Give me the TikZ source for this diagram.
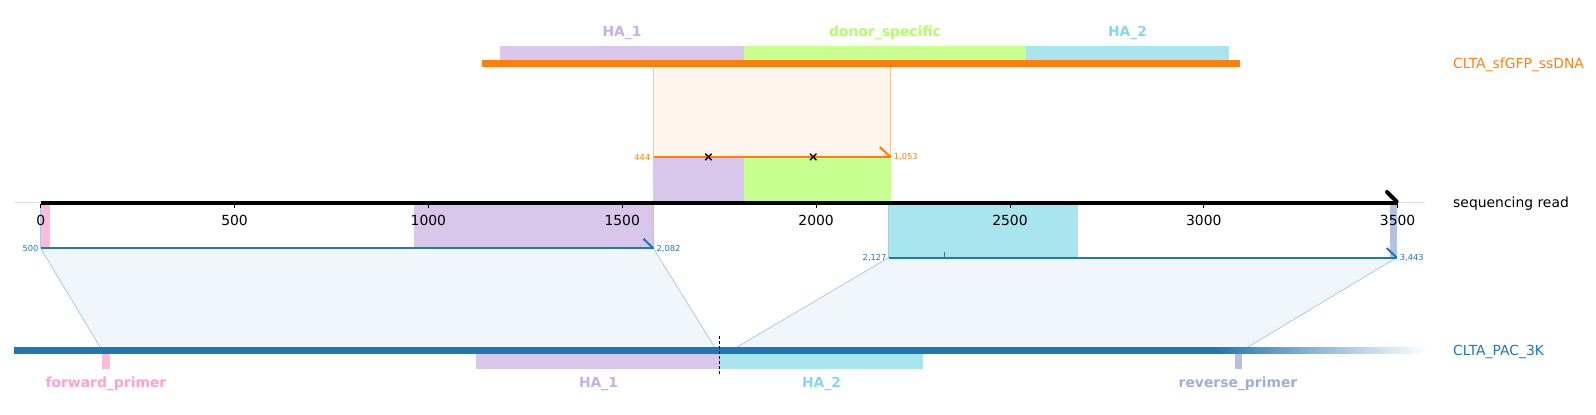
\documentclass[tikz,border=0pt]{standalone}
\usepackage{fontspec}
\setmainfont{DejaVu Sans}
\usetikzlibrary{positioning}
\definecolor{tabblue}{HTML}{1F77B4}
\definecolor{taborange}{HTML}{FF7F0E}
\definecolor{haonefill}{RGB}{216,199,235}
\definecolor{haonetext}{RGB}{198,176,232}
\definecolor{donorfill}{RGB}{200,255,145}
\definecolor{donortext}{RGB}{176,255,100}
\definecolor{hatwofill}{RGB}{168,229,238}
\definecolor{hatwotext}{RGB}{128,218,236}
\definecolor{fwdfill}{RGB}{255,186,220}
\definecolor{fwdtext}{RGB}{255,160,210}
\definecolor{revfill}{RGB}{182,193,222}
\definecolor{revtext}{RGB}{158,174,212}
\definecolor{orshade}{RGB}{255,245,238}
\definecolor{blshade}{RGB}{240,246,250}
\definecolor{bledge}{RGB}{166,205,232}

\begin{document}
\begin{tikzpicture}[x=1pt, y=-1pt,
  lbl/.style={font=\fontsize{13.9}{16}\selectfont, inner sep=0pt},
  featlbl/.style={font=\fontsize{13.9}{16}\selectfont\bfseries, inner sep=0pt},
  poslbl/.style={font=\fontsize{8.3}{9}\selectfont, inner sep=0pt},
  aln/.style={line width=2pt},
  hook/.style={line width=2pt},
  edgeline/.style={line width=0.8pt}
]
\useasboundingbox (0,0) rectangle (1596,415);

% donor (top)
\fill[orshade] (653.5,66) rectangle (890.7,202.6);
\draw[taborange!45, edgeline] (653.5,66) -- (653.5,202.6) (890.7,66) -- (890.7,202.6);
\fill[haonefill] (500,46) rectangle (744,60);
\fill[donorfill] (744,46) rectangle (1026,60);
\fill[hatwofill] (1026,46) rectangle (1229,60);
\fill[taborange] (481.5,60) rectangle (1240,66.5);
\node[featlbl, text=haonetext] (haone) at (622,33) {HA\_1};
\node[featlbl, text=donortext] (donor) at (885,33) {donor\_specific};
\node[featlbl, text=hatwotext] (hatwo) at (1127.5,33) {HA\_2};
\node[lbl, text=taborange, anchor=west] (ssdna) at (1453,64.5) {CLTA\_sfGFP\_ssDNA};

% read-side features
\fill[haonefill] (653.5,157) rectangle (744,202.6);
\fill[donorfill] (744,157) rectangle (890.7,202.6);
\fill[fwdfill] (40.7,203.6) rectangle (49.5,248.4);
\fill[haonefill] (414,203.6) rectangle (653.5,248.4);
\fill[hatwofill] (888.7,203.6) rectangle (1078,257.6);
\fill[revfill] (1389.5,203.6) rectangle (1396.7,257.6);
\draw[bledge, edgeline] (40.7,203.6) -- (40.7,248.4) (653.5,203.6) -- (653.5,248.4);
\draw[bledge, edgeline] (888.7,203.6) -- (888.7,257.6) (1396.7,203.6) -- (1396.7,257.6);

% alignment end points
\coordinate (dl) at (653.5,157);
\coordinate (dr) at (890.7,157);
\coordinate (al) at (40.7,248.4);
\coordinate (ar) at (653.5,248.4);
\coordinate (bl) at (888.7,257.6);
\coordinate (br) at (1396.7,257.6);
\coordinate (pal) at (101.8,350);
\coordinate (par) at (716.4,350);
\coordinate (pbl) at (732,350);
\coordinate (pbr) at (1243,350);

% shaded joins to the reference
\fill[blshade] (al) -- (ar) -- (par) -- (pal) -- cycle;
\fill[blshade] (bl) -- (br) -- (pbr) -- (pbl) -- cycle;
\draw[bledge, edgeline] (al) -- (pal) (ar) -- (par);
\draw[bledge, edgeline] (bl) -- (pbl) (br) -- (pbr);

% sequencing read axis
\draw[black!12, line width=1pt] (14.3,202.3) -- (1425,202.3);
\draw[line width=4pt] (40.7,202.6) -- (1397.7,202.6);
\draw[line width=4pt, line cap=round] (1387,192) -- (1396.7,201.6);
\foreach \v in {0,500,...,3500}{
  \draw[line width=0.8pt] ({40.7+0.3877*\v},204) -- ++(0,4);
  \node[lbl] (t\v) at ({40.7+0.3877*\v},220.5) {\v};
}
\node[lbl, anchor=west] (read) at (1453,203.6) {sequencing read};

% alignments
\draw[taborange, aln] (dl) -- (dr);
\draw[taborange, hook] (dr) -- ++(-11,-10);
\node[poslbl, text=taborange, anchor=east] (dlpos) at ([xshift=-3pt]dl) {444};
\node[poslbl, text=taborange, anchor=west] (drpos) at ([xshift=3pt]dr) {1,053};
\foreach \m/\x in {mone/708.5, mtwo/813.4}{
  \node[font=\fontsize{13}{13}\selectfont\bfseries, inner sep=0pt] (\m) at (\x,157.5) {×};
}
\draw[tabblue, aln] (al) -- (ar);
\draw[tabblue, hook] (ar) -- ++(-10,-9.5);
\node[poslbl, text=tabblue, anchor=east] (alpos) at ([xshift=-2pt]al) {500};
\node[poslbl, text=tabblue, anchor=west] (arpos) at ([xshift=3pt]ar) {2,082};
\draw[tabblue, aln] (bl) -- (br);
\draw[tabblue, hook] (br) -- ++(-10,-9.5);
\draw[tabblue, line width=1.5pt] (944.7,257.6) -- ++(0,-5.5);
\node[poslbl, text=tabblue, anchor=east] (blpos) at ([xshift=-2pt]bl) {2,127};
\node[poslbl, text=tabblue, anchor=west] (brpos) at ([xshift=3pt]br) {3,443};

% reference (bottom)
\fill[tabblue] (14.3,346.8) rectangle (1214.5,353.6);
\foreach \i in {0,...,49}{
  \pgfmathsetmacro{\shade}{100-2*\i}
  \fill[tabblue!\shade!white] ({1214+4.22*\i},346.8) rectangle ({1214+4.22*(\i+1)+0.3},353.6);
}
\fill[fwdfill] (101.8,353.6) rectangle (110,368.5);
\fill[haonefill] (476,353.6) rectangle (719.7,368.5);
\fill[hatwofill] (719.7,353.6) rectangle (923,368.5);
\fill[revfill] (1234.8,353.6) rectangle (1242,368.5);
\draw[dash pattern=on 3pt off 2pt, line width=1pt] (719.7,336) -- (719.7,375);
\node[featlbl, text=fwdtext] (fwd) at (105.9,384) {forward\_primer};
\node[featlbl, text=haonetext] (haoneb) at (598.6,384) {HA\_1};
\node[featlbl, text=hatwotext] (hatwob) at (821.5,384) {HA\_2};
\node[featlbl, text=revtext] (rev) at (1238,384) {reverse\_primer};
\node[lbl, text=tabblue, anchor=west] (pac) at (1453,352) {CLTA\_PAC\_3K};
\end{tikzpicture}
\end{document}
